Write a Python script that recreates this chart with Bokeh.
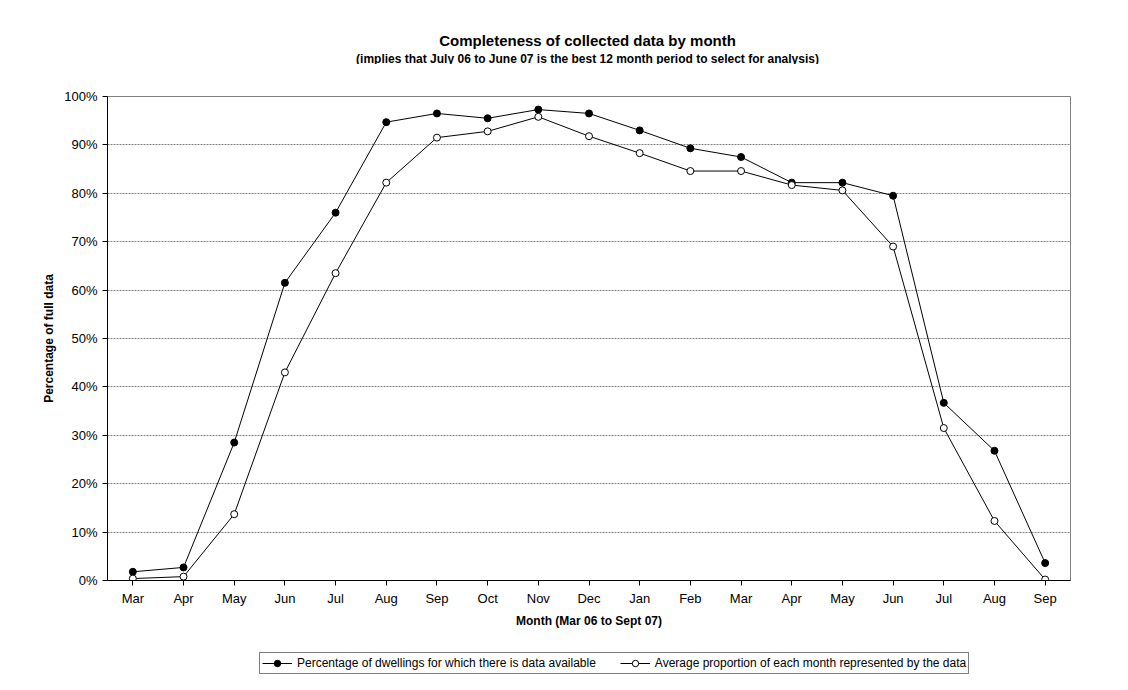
from bokeh.plotting import figure
from bokeh.models import Label, Legend, LegendItem, FixedTicker, Range1d
from bokeh.layouts import column
from bokeh.embed import file_html
from bokeh.resources import INLINE

months = ["Mar", "Apr", "May", "Jun", "Jul", "Aug", "Sep", "Oct", "Nov", "Dec",
          "Jan", "Feb", "Mar", "Apr", "May", "Jun", "Jul", "Aug", "Sep"]
dwellings = [1.8, 2.7, 28.5, 61.5, 76.0, 94.7, 96.5, 95.5, 97.3, 96.5,
             93.0, 89.3, 87.5, 82.2, 82.2, 79.5, 36.7, 26.8, 3.6]
proportion = [0.4, 0.8, 13.7, 43.0, 63.5, 82.2, 91.5, 92.8, 95.8, 91.8,
              88.3, 84.6, 84.6, 81.7, 80.6, 69.0, 31.5, 12.3, 0.2]
x = list(range(len(months)))

FONT = "Liberation Sans"


def strip(h):
    s = figure(width=1112, height=h, output_backend="svg", toolbar_location=None,
               x_range=Range1d(0, 1), y_range=Range1d(0, 1), min_border=0)
    s.axis.visible = False
    s.grid.visible = False
    s.outline_line_color = None
    return s


# title strip
tf = strip(64)
tf.add_layout(Label(x=480, y=24, x_units="screen", y_units="screen",
                    text="Completeness of collected data by month", text_font=FONT,
                    text_font_size="15px", text_font_style="bold", text_align="center",
                    text_baseline="middle", text_color="black"))
tf.add_layout(Label(x=480, y=6, x_units="screen", y_units="screen",
                    text="(implies that July 06 to June 07 is the best 12 month period to select for analysis)",
                    text_font=FONT, text_font_size="12px", text_font_style="bold",
                    text_align="center", text_baseline="middle", text_color="black"))

p = figure(width=1112, height=574, output_backend="svg", toolbar_location=None,
           x_range=Range1d(-0.5, 18.5), y_range=Range1d(0, 100),
           min_border_left=107, min_border_right=42, min_border_top=32, min_border_bottom=58)
p.outline_line_color = "#808080"
p.background_fill_color = "white"

p.xaxis.ticker = FixedTicker(ticks=x)
p.xaxis.major_label_overrides = {i: m for i, m in enumerate(months)}
p.xaxis.axis_label = "Month (Mar 06 to Sept 07)"
p.xgrid.visible = False
p.yaxis.ticker = FixedTicker(ticks=list(range(0, 101, 10)))
p.yaxis.major_label_overrides = {v: f"{v}%" for v in range(0, 101, 10)}
p.yaxis.axis_label = "Percentage of full data"
p.ygrid.grid_line_color = "#808080"
p.ygrid.grid_line_dash = "2 1"
for ax in (p.xaxis, p.yaxis):
    ax.axis_label_text_font = FONT
    ax.axis_label_text_font_size = "12px"
    ax.axis_label_text_font_style = "bold"
    ax.axis_label_text_color = "black"
    ax.major_label_text_font = FONT
    ax.major_label_text_font_size = "13px"
    ax.major_label_text_color = "black"
    ax.axis_line_color = "black"
    ax.major_tick_line_color = "black"
    ax.minor_tick_line_color = None
    ax.major_tick_in = 0
    ax.major_tick_out = 5

p.line(x, dwellings, line_color="black", line_width=1)
p.scatter(x, dwellings, size=7, fill_color="black", line_color="black")
p.line(x, proportion, line_color="black", line_width=1)
p.scatter(x, proportion, size=7, fill_color="white", line_color="black")

# legend strip below the chart
lf = strip(44)
l1 = lf.line([5, 6], [5, 5], line_color="black")
c1 = lf.scatter([5], [5], size=7, fill_color="black", line_color="black")
l2 = lf.line([5, 6], [5, 5], line_color="black")
c2 = lf.scatter([5], [5], size=7, fill_color="white", line_color="black")
legend = Legend(items=[
    LegendItem(label="Percentage of dwellings for which there is data available", renderers=[l1, c1]),
    LegendItem(label="Average proportion of each month represented by the data", renderers=[l2, c2]),
], orientation="horizontal", location=(152, 8), border_line_color="black",
    label_text_font=FONT, label_text_font_size="12px", padding=2, spacing=24,
    glyph_width=30, glyph_height=16, margin=0, label_text_color="black")
lf.add_layout(legend, "center")

open("out.html", "w").write(file_html(column(tf, p, lf, spacing=0), INLINE))
